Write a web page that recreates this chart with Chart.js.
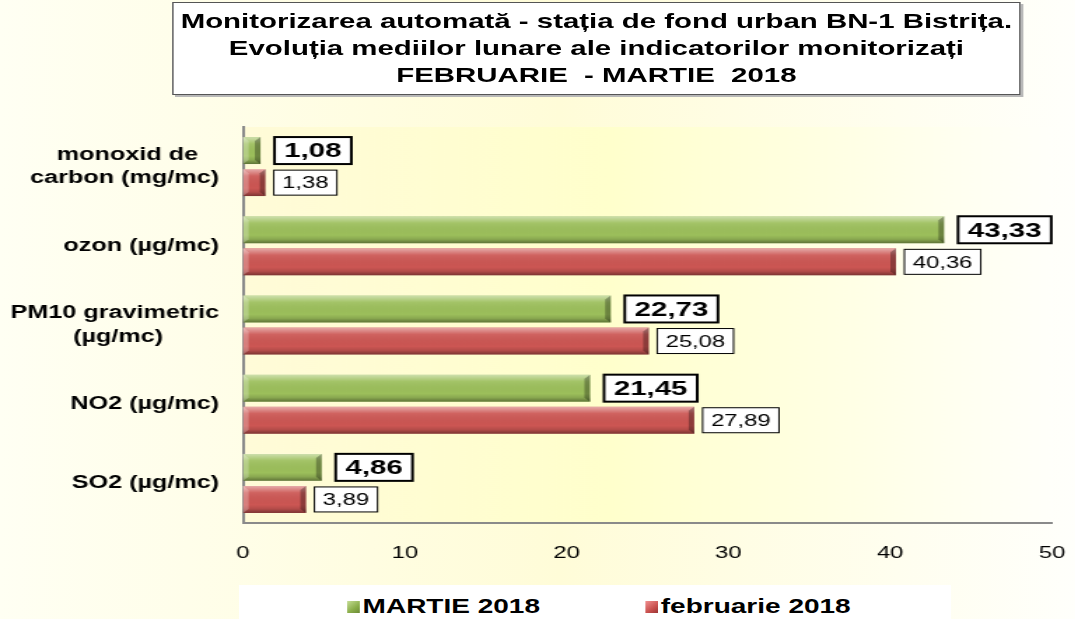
<!DOCTYPE html>
<html>
<head>
<meta charset="utf-8">
<title>Monitorizarea automată BN-1 Bistrița</title>
<script src="https://cdn.jsdelivr.net/npm/chart.js@4.4.1/dist/chart.umd.min.js"></script>
<style>
html, body { margin: 0; padding: 0; }
body {
    width: 1075px; height: 619px; overflow: hidden; position: relative;
    background: linear-gradient(to right, #fffff3 0%, #fffcd8 52%, #fffffb 100%);
    font-family: "Liberation Sans", Arial, sans-serif;
}
/* the original picture is stretched horizontally, so we draw narrow and scale */
#wrap { position: absolute; left: 0; top: 0; width: 768px; height: 619px; transform-origin: 0 0; transform: scaleX(1.4); }
#Grafic { position: absolute; left: 0; top: 0; }
#titlu {
    position: absolute; left: 123px; top: 2px; width: 606px; height: 93px; box-sizing: border-box;
    background: #fff; border: 1px solid #555; box-shadow: 2px 2px 0 #b8b8b8;
    text-align: center; font-weight: bold; font-size: 21px; line-height: 27px; padding-top: 4px; color: #000;
    white-space: pre;
}
#legenda { position: absolute; left: 171px; top: 585px; width: 508px; height: 34px; background: #fff; }
.item { position: absolute; top: 10px; font-weight: bold; font-size: 20px; line-height: 22px; color: #000; white-space: nowrap; }
.patrat { display: inline-block; width: 9px; height: 12px; margin-right: 2px; vertical-align: 0px; }
</style>
</head>
<body>
<div id="wrap">
  <div id="titlu">Monitorizarea automată - stația de fond urban BN-1 Bistrița.
Evoluția mediilor lunare ale indicatorilor monitorizați
FEBRUARIE  - MARTIE  2018</div>
  <canvas id="Grafic" width="768" height="619"></canvas>
  <div id="legenda">
    <div class="item" style="left:77px"><span class="patrat" style="background:linear-gradient(135deg,#c4dc94,#8aad4a 60%,#6b8a35)"></span>MARTIE 2018</div>
    <div class="item" style="left:290px"><span class="patrat" style="background:linear-gradient(135deg,#f09090,#c9504e 60%,#9a3434)"></span>februarie 2018</div>
  </div>
</div>
<script>
var categorii = [['monoxid de', 'carbon (mg/mc)'], 'ozon (µg/mc)', ['PM10 gravimetric', '(µg/mc)'], 'NO2 (µg/mc)', 'SO2 (µg/mc)'];
var martie = [1.08, 43.33, 22.73, 21.45, 4.86];
var februarie = [1.38, 40.36, 25.08, 27.89, 3.89];
var serii = ['MARTIE 2018', 'februarie 2018'];
var axaX = [0, 10, 20, 30, 40, 50];

var fontY = 'bold 18px "Liberation Sans", Arial, sans-serif';

// centre the lines of a two-line label inside its own block
function centreaza(lab) {
    if (!Array.isArray(lab)) return lab;
    var c = document.createElement('canvas').getContext('2d');
    c.font = fontY;
    var max = 0;
    lab.forEach(function (l) { max = Math.max(max, c.measureText(l).width); });
    var sp = c.measureText('\u00a0').width;
    return lab.map(function (l) {
        var n = Math.round((max - c.measureText(l).width) / 2 / sp);
        return l + '\u00a0'.repeat(n);
    });
}

function virgula(v) { return v.toFixed(2).replace('.', ','); }

var fundal = {
    id: 'fundal',
    beforeDraw: function (chart) {
        var a = chart.chartArea, ctx = chart.ctx;
        var g = ctx.createLinearGradient(a.left, 0, a.right, 0);
        g.addColorStop(0, '#fffbd8');
        g.addColorStop(0.45, '#ffffcc');
        g.addColorStop(1, '#fffffa');
        ctx.save();
        ctx.fillStyle = g;
        ctx.fillRect(a.left, a.top, a.right - a.left, a.bottom - a.top);
        ctx.restore();
    }
};

var relief = {
    id: 'relief',
    afterDatasetsDraw: function (chart) {
        var ctx = chart.ctx;
        ctx.save();
        chart.data.datasets.forEach(function (ds, i) {
            chart.getDatasetMeta(i).data.forEach(function (el) {
                var x0 = el.base, x1 = el.x, t = el.y - el.height / 2, b = el.y + el.height / 2, h = el.height;
                var g = ctx.createLinearGradient(0, t, 0, b);
                g.addColorStop(0, 'rgba(255,255,255,0.5)');
                g.addColorStop(0.25, 'rgba(255,255,255,0.08)');
                g.addColorStop(0.7, 'rgba(0,0,0,0)');
                g.addColorStop(0.85, 'rgba(0,0,0,0.12)');
                g.addColorStop(1, 'rgba(0,0,0,0.4)');
                ctx.fillStyle = g;
                ctx.fillRect(x0, t, x1 - x0, h);
                var e = Math.min(4, (x1 - x0) / 2);
                ctx.fillStyle = 'rgba(0,0,0,0.3)';
                ctx.beginPath();
                ctx.moveTo(x1 - e, t + 4); ctx.lineTo(x1, t); ctx.lineTo(x1, b); ctx.lineTo(x1 - e, b - 4);
                ctx.closePath(); ctx.fill();
                ctx.fillStyle = 'rgba(255,255,255,0.25)';
                ctx.beginPath();
                ctx.moveTo(x0, t); ctx.lineTo(x0 + e, t + 4); ctx.lineTo(x0 + e, b - 4); ctx.lineTo(x0, b);
                ctx.closePath(); ctx.fill();
            });
        });
        ctx.restore();
    }
};

var etichete = {
    id: 'etichete',
    afterDatasetsDraw: function (chart) {
        var ctx = chart.ctx;
        ctx.save();
        ctx.textBaseline = 'middle';
        ctx.textAlign = 'left';
        chart.data.datasets.forEach(function (ds, i) {
            var gros = i === 0;
            ctx.font = gros ? 'bold 21px "Liberation Sans", Arial, sans-serif' : '17px "Liberation Sans", Arial, sans-serif';
            var pad = gros ? 7 : 6, bh = gros ? 27 : 25, gap = gros ? 10 : 6;
            chart.getDatasetMeta(i).data.forEach(function (el, j) {
                var txt = virgula(ds.data[j]);
                var w = ctx.measureText(txt).width;
                var bx = el.x + gap, by = el.y - bh / 2, bw = w + 2 * pad;
                ctx.fillStyle = '#fff';
                ctx.fillRect(bx, by, bw, bh);
                ctx.lineWidth = gros ? 2 : 1;
                ctx.strokeStyle = '#000';
                ctx.strokeRect(bx, by, bw, bh);
                ctx.fillStyle = '#000';
                ctx.fillText(txt, bx + pad, el.y + 1);
            });
        });
        ctx.restore();
    }
};

var ctx = document.getElementById('Grafic').getContext('2d');
var chart = new Chart(ctx, {
    type: 'bar',
    data: {
        labels: categorii,
        datasets: [{
            label: serii[0],
            data: martie,
            backgroundColor: '#9cbf5b',
            borderWidth: 0
        }, {
            label: serii[1],
            data: februarie,
            backgroundColor: '#cc5653',
            borderWidth: 0
        }]
    },
    options: {
        indexAxis: 'y',
        responsive: false,
        animation: false,
        devicePixelRatio: 1,
        categoryPercentage: 0.81,
        barPercentage: 0.84,
        layout: { padding: { top: 127, left: 0, right: 16.6, bottom: 56 } },
        plugins: {
            legend: { display: false },
            tooltip: { enabled: false }
        },
        scales: {
            x: {
                min: axaX[0],
                max: axaX[axaX.length - 1],
                afterBuildTicks: function (s) { s.ticks = axaX.map(function (v) { return { value: v }; }); },
                afterFit: function (s) { s.height = 40; s.paddingLeft = 0; s.paddingRight = 0; },
                grid: { display: false },
                border: { display: true, color: '#8a8a8a', width: 2 },
                ticks: { color: '#000', padding: 12, font: { family: '"Liberation Sans", Arial, sans-serif', size: 17 } }
            },
            y: {
                afterFit: function (s) { s.width = 173.6; },
                grid: { display: false },
                border: { display: true, color: '#8a8a8a', width: 2 },
                ticks: {
                    color: '#000',
                    padding: 9,
                    font: { family: '"Liberation Sans", Arial, sans-serif', size: 18, weight: 'bold', lineHeight: 1.3 },
                    callback: function (v, i) { return centreaza(categorii[i]); }
                }
            }
        }
    },
    plugins: [fundal, relief, etichete]
});
</script>
</body>
</html>
